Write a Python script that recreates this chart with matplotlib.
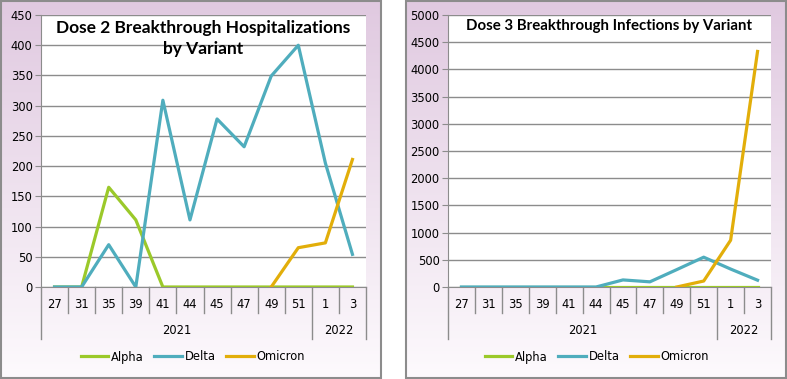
# Dose 2 / Dose 3 breakthrough charts by variant

import numpy as np
from matplotlib import pyplot as plt
from matplotlib.patches import Rectangle
from matplotlib.colors import LinearSegmentedColormap
from matplotlib.transforms import blended_transform_factory

weeks = ['27', '31', '35', '39', '41', '44', '45', '47', '49', '51', '1', '3']
years = ['2021'] * 10 + ['2022'] * 2

# dose 2 hospitalizations
hosp_alpha = [0, 0, 165, 111, 0, 0, 0, 0, 0, 0, 0, 0]
hosp_delta = [0, 0, 70, 0, 309, 111, 278, 232, 349, 400, 205, 54]
hosp_omicron = [np.nan] * 8 + [0, 65, 73, 211]

# dose 3 infections
inf_alpha = [0] * 12
inf_delta = [0, 0, 0, 0, 0, 0, 130, 95, 320, 548, 330, 125]
inf_omicron = [np.nan] * 8 + [0, 110, 860, 4330]

green = '#9BC92A'
teal = '#4FADBD'
gold = '#E2AE0A'
grey = '#8C8C8C'

W, H = 787, 379
fig = plt.figure(figsize=(W / 100, H / 100), dpi=100)
plt.rcParams['font.family'] = 'DejaVu Sans'

cmap = LinearSegmentedColormap.from_list('bg', ['#E0C9E0', '#FDFAFD'])


def fr(x0, y0, x1, y1):
    # pixel box (top-left origin) -> figure fraction rect
    return [x0 / W, 1 - y1 / H, (x1 - x0) / W, (y1 - y0) / H]


def panel(x0, x1):
    bg = fig.add_axes(fr(x0, 0.5, x1, 378), zorder=0)
    grad = np.linspace(0, 1, 256).reshape(-1, 1)
    bg.imshow(grad, cmap=cmap, aspect='auto', extent=[0, 1, 0, 1],
              origin='upper')
    bg.set_xlim(0, 1)
    bg.set_ylim(0, 1)
    bg.axis('off')
    bg.add_patch(Rectangle((0, 0), 1, 1, fill=False, ec=grey, lw=1.5,
                           transform=bg.transAxes, clip_on=False))


def chart(box, alpha, delta, omicron, ymax, step, title, tsize, ty, leg_x):
    ax = fig.add_axes(fr(*box), zorder=2)
    ax.set_facecolor('white')
    x = np.arange(len(weeks))
    ax.plot(x, alpha, color=green, lw=2.3, zorder=3)
    ax.plot(x, delta, color=teal, lw=2.3, zorder=4)
    ax.plot(x, omicron, color=gold, lw=2.3, zorder=5)
    ax.set_xlim(-0.5, len(weeks) - 0.5)
    ax.set_ylim(0, ymax)
    ax.set_yticks(np.arange(0, ymax + 1, step))
    ax.yaxis.grid(True, color=grey, lw=1)
    ax.set_axisbelow(True)
    for s in ['top', 'right']:
        ax.spines[s].set_visible(False)
    ax.spines['left'].set_color(grey)
    ax.spines['bottom'].set_color(grey)
    ax.tick_params(axis='y', length=4, color=grey, labelsize=8.3, pad=2)
    ax.set_xticks([])

    tr = blended_transform_factory(ax.transData, ax.transAxes)
    h = box[3] - box[1]
    small = -26 / h
    big = -52 / h
    for i, w in enumerate(weeks):
        ax.text(i, -18 / h, w, transform=tr, ha='center', va='center',
                fontsize=8.3)
    # separators
    for i in range(len(weeks) + 1):
        edge = i == 0 or i == len(weeks) or years[i] != years[i - 1]
        ax.plot([i - 0.5, i - 0.5], [0, big if edge else small],
                transform=tr, color=grey, lw=1, clip_on=False)
    # year labels
    start = 0
    for i in range(1, len(years) + 1):
        if i == len(years) or years[i] != years[start]:
            ax.text((start + i - 1) / 2, -44 / h, years[start], transform=tr,
                    ha='center', va='center', fontsize=8.3)
            start = i

    ax.text(0.5, ty, title, transform=ax.transAxes, ha='center', va='top',
            fontsize=tsize, fontweight='bold', family='Lato',
            linespacing=1.35, zorder=6)
    fig.legend(ax.lines, ['Alpha', 'Delta', 'Omicron'], loc='center',
               bbox_to_anchor=(leg_x / W, 1 - 357 / H), ncol=3,
               frameon=False, fontsize=8.3, handlelength=2.4,
               handletextpad=0.25, columnspacing=0.9)
    return ax


panel(0.5, 381)
panel(405.5, 786)
chart((41, 15, 366, 287), hosp_alpha, hosp_delta, hosp_omicron, 450, 50,
      'Dose 2 Breakthrough Hospitalizations\nby Variant', 12.5, 0.98, 193)
chart((448, 15, 771, 287), inf_alpha, inf_delta, inf_omicron, 5000, 500,
      'Dose 3 Breakthrough Infections by Variant', 10.8, 0.985, 597)

fig.savefig('out.png', dpi=100)
